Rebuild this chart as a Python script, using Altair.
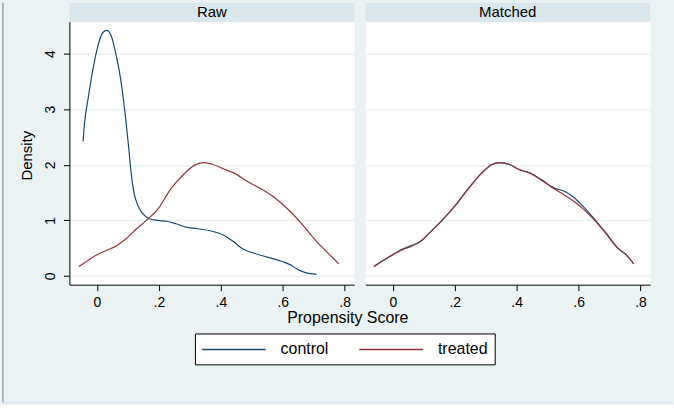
import altair as alt
import pandas as pd

# ---------------- data ----------------
panels = ["Raw", "Matched"]
groups = ["control", "treated"]
colors = ["#1A476F", "#90353B"]

raw_control_x = [-0.045, -0.040, -0.029, -0.013, 0.003, 0.019, 0.032, 0.046, 0.060, 0.073,
                 0.084, 0.094, 0.103, 0.110, 0.119, 0.132, 0.148, 0.169, 0.196, 0.228,
                 0.255, 0.287, 0.325, 0.368, 0.411, 0.443, 0.470, 0.507, 0.550, 0.598,
                 0.625, 0.647, 0.673, 0.709]
raw_control_y = [2.42, 2.76, 3.18, 3.72, 4.14, 4.38, 4.42, 4.32, 4.02, 3.66,
                 3.24, 2.76, 2.28, 1.87, 1.51, 1.27, 1.12, 1.03, 1.00, 0.98,
                 0.94, 0.88, 0.85, 0.81, 0.73, 0.61, 0.49, 0.41, 0.34, 0.26,
                 0.20, 0.12, 0.06, 0.03]

raw_treated_x = [-0.059, -0.029, 0.003, 0.030, 0.062, 0.094, 0.126, 0.159, 0.196, 0.239,
                 0.282, 0.314, 0.344, 0.373, 0.411, 0.443, 0.486, 0.529, 0.571, 0.615,
                 0.647, 0.679, 0.711, 0.743, 0.781]
raw_treated_y = [0.17, 0.28, 0.39, 0.46, 0.54, 0.67, 0.84, 1.00, 1.20, 1.57,
                 1.84, 1.99, 2.04, 2.01, 1.92, 1.85, 1.70, 1.57, 1.42, 1.21,
                 1.03, 0.82, 0.61, 0.43, 0.22]

matched_control_x = [-0.061, -0.013, 0.030, 0.062, 0.089, 0.121, 0.159, 0.202, 0.244, 0.287,
                     0.319, 0.346, 0.379, 0.406, 0.443, 0.481, 0.518, 0.556, 0.588, 0.620,
                     0.652, 0.689, 0.727, 0.754, 0.778]
matched_control_y = [0.17, 0.34, 0.48, 0.55, 0.62, 0.79, 1.00, 1.27, 1.57, 1.85,
                     2.00, 2.04, 2.00, 1.92, 1.85, 1.73, 1.59, 1.52, 1.40, 1.22,
                     1.02, 0.77, 0.50, 0.38, 0.22]

matched_treated_x = [-0.061, -0.013, 0.030, 0.062, 0.089, 0.121, 0.159, 0.202, 0.244, 0.287,
                     0.319, 0.346, 0.379, 0.406, 0.443, 0.481, 0.518, 0.556, 0.588, 0.620,
                     0.652, 0.689, 0.727, 0.754, 0.778]
matched_treated_y = [0.17, 0.34, 0.47, 0.54, 0.62, 0.79, 1.00, 1.27, 1.57, 1.85,
                     2.00, 2.04, 2.00, 1.92, 1.85, 1.72, 1.58, 1.45, 1.33, 1.18,
                     1.00, 0.76, 0.50, 0.38, 0.22]

x_ticks = [0, 0.2, 0.4, 0.6, 0.8]
y_ticks = [0, 1, 2, 3, 4]
x_title = "Propensity Score"
y_title = "Density"

# ---------------- styling ----------------
FONT = "Liberation Sans"
W, H = 286, 264
X_DOMAIN = [-0.089, 0.831]
Y_DOMAIN = [-0.156, 4.574]
STRIP = "#D9E6EB"
BG = "#EAF2F3"

legend = alt.Legend(
    orient="none", legendX=126, legendY=313, direction="horizontal", title=None,
    symbolType="M-4,0H4", symbolSize=256, symbolStrokeWidth=1.5, symbolOffset=23,
    labelFont=FONT, labelFontSize=16, labelColor="black", labelOffset=38,
    columnPadding=27, padding=7, fillColor="white", strokeColor="black",
)
color = alt.Color("group:N", scale=alt.Scale(domain=groups, range=colors), legend=legend)


def make_df(cx, cy, tx, ty):
    return pd.DataFrame({
        "group": [groups[0]] * len(cx) + [groups[1]] * len(tx),
        "x": cx + tx,
        "y": cy + ty,
    })


def panel(name, df, first):
    hdr = pd.DataFrame({"panel": [name]})
    strip = alt.Chart(hdr).mark_rect(color=STRIP).encode(
        x=alt.value(0), x2=alt.value(W), y=alt.value(-19), y2=alt.value(0))
    label = alt.Chart(hdr).mark_text(font=FONT, fontSize=15, color="black",
                                     baseline="middle", align="center").encode(
        x=alt.value(W / 2), y=alt.value(-9.5), text="panel:N")

    if first:
        xaxis = alt.Axis(values=x_ticks, grid=False, title=x_title,
                         labelExpr="datum.value == 0 ? '0' : '.' + round(datum.value * 10)",
                         titleX=279, titleY=33, titleBaseline="middle", titleAlign="center",
                         titleFontSize=16)
        yaxis = alt.Axis(values=y_ticks, grid=True, title=y_title, labelAngle=270,
                         labelAlign="center", labelBaseline="alphabetic", labelPadding=8.7,
                         titleAngle=270, titleX=-37.7, titleY=134, titleBaseline="alphabetic",
                         titleAlign="center", titleFontSize=15)
    else:
        xaxis = alt.Axis(values=x_ticks, grid=False, title=None,
                         labelExpr="datum.value == 0 ? '0' : '.' + round(datum.value * 10)")
        yaxis = alt.Axis(values=y_ticks, grid=True, title=None, labels=False,
                         ticks=False, domain=False)

    lines = alt.Chart(df).mark_line(strokeWidth=1.2, interpolate="monotone").encode(
        x=alt.X("x:Q", scale=alt.Scale(domain=X_DOMAIN, nice=False, zero=False), axis=xaxis),
        y=alt.Y("y:Q", scale=alt.Scale(domain=Y_DOMAIN, nice=False, zero=False), axis=yaxis),
        color=color,
    )
    layers = [strip, label, lines]
    if first:
        left_border = alt.Chart(hdr).mark_rule(color="#A0A0A0", strokeWidth=1.5).encode(
            x=alt.value(-66.8), y=alt.value(-19), y2=alt.value(382))
        bottom_border = alt.Chart(hdr).mark_rule(color="#D3DEE8", strokeWidth=1).encode(
            x=alt.value(-67.5), x2=alt.value(605.5), y=alt.value(382.5))
        layers = [left_border, bottom_border] + layers
    return alt.layer(*layers).properties(width=W, height=H)


left = panel(panels[0], make_df(raw_control_x, raw_control_y, raw_treated_x, raw_treated_y), True)
right = panel(panels[1], make_df(matched_control_x, matched_control_y,
                                 matched_treated_x, matched_treated_y), False)

chart = alt.hconcat(left, right, spacing=11, bounds="flush").properties(
    padding={"left": 0.7, "top": 0, "right": 0, "bottom": 0}
).configure(background=BG).configure_view(
    fill="white", stroke="transparent"
).configure_axis(
    domainColor="black", tickColor="black", labelColor="black", titleColor="black",
    labelFont=FONT, titleFont=FONT, labelFontSize=14, titleFontWeight="normal",
    tickSize=6, labelPadding=5, gridColor=BG, gridWidth=1.5, domainWidth=1, tickWidth=1,
)

chart.save("out.html", embed_options={"renderer": "svg", "actions": False})
